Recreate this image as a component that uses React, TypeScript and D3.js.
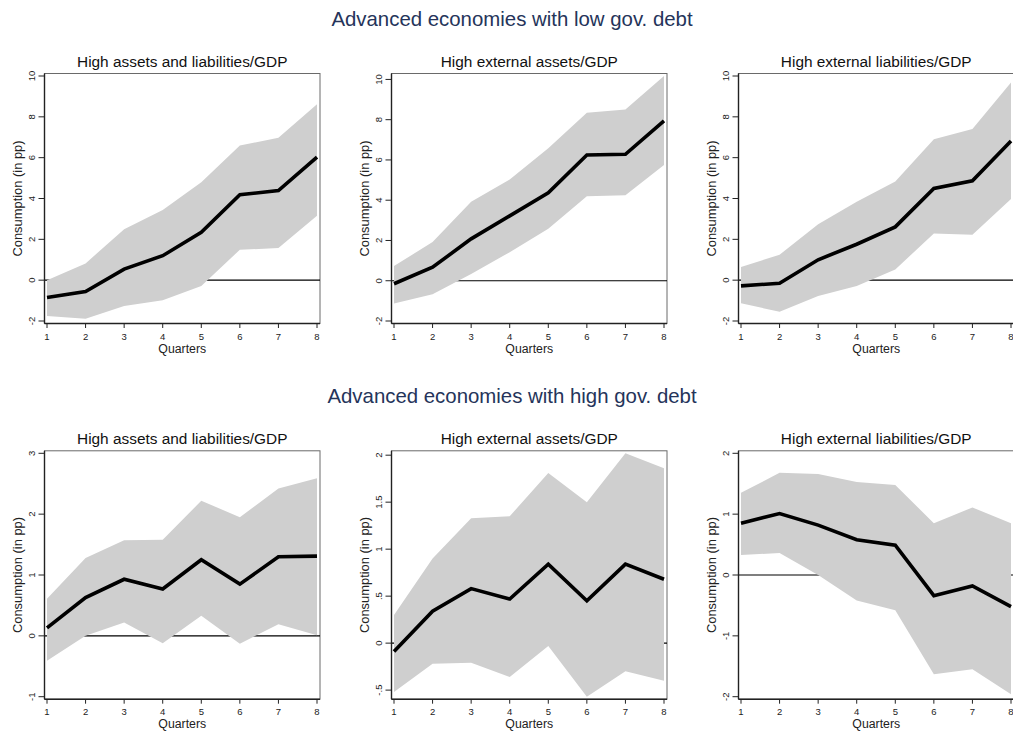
import React from "react";
import * as d3 from "d3";

// ---------- data ----------
const quarters = [1, 2, 3, 4, 5, 6, 7, 8];

const rowTitles = [
  "Advanced economies with low gov. debt",
  "Advanced economies with high gov. debt",
];
const panelTitles = [
  "High assets and liabilities/GDP",
  "High external assets/GDP",
  "High external liabilities/GDP",
];

// Low gov. debt – high assets and liabilities
const lowBothIrf = [-0.85, -0.56, 0.54, 1.2, 2.34, 4.18, 4.39, 6.03];
const lowBothUpper = [0.0, 0.82, 2.5, 3.44, 4.8, 6.6, 6.97, 8.62];
const lowBothLower = [-1.75, -1.89, -1.26, -0.98, -0.28, 1.49, 1.57, 3.16];
// Low gov. debt – high external assets
const lowAssetsIrf = [-0.15, 0.67, 2.08, 3.22, 4.37, 6.25, 6.28, 7.94];
const lowAssetsUpper = [0.73, 1.92, 3.92, 5.03, 6.58, 8.35, 8.5, 10.17];
const lowAssetsLower = [-1.13, -0.67, 0.33, 1.42, 2.58, 4.2, 4.25, 5.75];
// Low gov. debt – high external liabilities
const lowLiabIrf = [-0.28, -0.15, 1.0, 1.76, 2.61, 4.49, 4.87, 6.82];
const lowLiabUpper = [0.65, 1.24, 2.74, 3.84, 4.83, 6.9, 7.4, 9.68];
const lowLiabLower = [-1.13, -1.55, -0.77, -0.28, 0.52, 2.29, 2.22, 3.97];
// High gov. debt – high assets and liabilities
const highBothIrf = [0.13, 0.63, 0.93, 0.77, 1.25, 0.85, 1.3, 1.31];
const highBothUpper = [0.61, 1.28, 1.57, 1.58, 2.22, 1.95, 2.42, 2.59];
const highBothLower = [-0.41, 0.0, 0.22, -0.12, 0.33, -0.13, 0.19, 0.01];
// High gov. debt – high external assets
const highAssetsIrf = [-0.09, 0.34, 0.58, 0.47, 0.84, 0.45, 0.84, 0.68];
const highAssetsUpper = [0.3, 0.9, 1.33, 1.35, 1.81, 1.5, 2.02, 1.86];
const highAssetsLower = [-0.52, -0.22, -0.21, -0.36, -0.03, -0.57, -0.3, -0.4];
// High gov. debt – high external liabilities
const highLiabIrf = [0.85, 1.01, 0.82, 0.58, 0.49, -0.34, -0.18, -0.52];
const highLiabUpper = [1.35, 1.68, 1.66, 1.53, 1.48, 0.85, 1.11, 0.85];
const highLiabLower = [0.33, 0.36, 0.0, -0.42, -0.58, -1.63, -1.55, -1.96];

// y-axis tick values per panel
const lowTicks = [-2, 0, 2, 4, 6, 8, 10];
const highBothTicks = [-1, 0, 1, 2, 3];
const highAssetsTicks = [-0.5, 0, 0.5, 1, 1.5, 2];
const highLiabTicks = [-2, -1, 0, 1, 2];

const xTitle = "Quarters";
const yTitle = "Consumption (in pp)";

// ---------- layout ----------
const W = 1013;
const H = 732;
const colX = [47, 394, 741];
const plotW = 270;
const rows = [
  { top: 76, bottom: 321, titleY: 26, panelTitleY: 67 },
  { top: 453.3, bottom: 696.7, titleY: 403, panelTitleY: 443.5 },
];
const FONT = "'Liberation Sans', Arial, Helvetica, sans-serif";

type PanelDef = {
  row: number;
  col: number;
  irf: number[];
  upper: number[];
  lower: number[];
  ticks: number[];
};

const panels: PanelDef[] = [
  { row: 0, col: 0, irf: lowBothIrf, upper: lowBothUpper, lower: lowBothLower, ticks: lowTicks },
  { row: 0, col: 1, irf: lowAssetsIrf, upper: lowAssetsUpper, lower: lowAssetsLower, ticks: lowTicks },
  { row: 0, col: 2, irf: lowLiabIrf, upper: lowLiabUpper, lower: lowLiabLower, ticks: lowTicks },
  { row: 1, col: 0, irf: highBothIrf, upper: highBothUpper, lower: highBothLower, ticks: highBothTicks },
  { row: 1, col: 1, irf: highAssetsIrf, upper: highAssetsUpper, lower: highAssetsLower, ticks: highAssetsTicks },
  { row: 1, col: 2, irf: highLiabIrf, upper: highLiabUpper, lower: highLiabLower, ticks: highLiabTicks },
];

const fmt = (v: number) => {
  let s = String(Math.round(v * 100) / 100);
  s = s.replace(/^0\./, ".").replace(/^-0\./, "-.");
  return s;
};

function Panel({ p }: { p: PanelDef }) {
  const r = rows[p.row];
  const x0 = colX[p.col];
  const x = d3.scaleLinear().domain([1, 8]).range([x0, x0 + plotW]);
  const yMin = Math.min(p.ticks[0], d3.min(p.lower) as number);
  const yMax = Math.max(p.ticks[p.ticks.length - 1], d3.max(p.upper) as number);
  const y = d3.scaleLinear().domain([yMin, yMax]).range([r.bottom, r.top]);

  const area = d3
    .area<number>()
    .x((_, i) => x(quarters[i]))
    .y0((_, i) => y(p.lower[i]))
    .y1((_, i) => y(p.upper[i]));
  const line = d3
    .line<number>()
    .x((_, i) => x(quarters[i]))
    .y((d) => y(d));

  const fl = x(1) - 2.5;
  const fr = x(8) + 3;
  const ft = r.top - 2.5;
  const fb = r.bottom + 2.5;

  return (
    <g>
      <text
        x={(fl + fr) / 2}
        y={r.panelTitleY}
        textAnchor="middle"
        fontSize={15.4}
        fontFamily={FONT}
        fill="#111"
      >
        {panelTitles[p.col]}
      </text>
      {/* frame */}
      <rect x={fl} y={ft} width={fr - fl} height={fb - ft} fill="#fff" stroke="#6a6a6a" strokeWidth={1} />
      {/* zero line */}
      <line x1={fl} x2={fr} y1={y(0)} y2={y(0)} stroke="#000" strokeWidth={1.1} />
      {/* confidence band */}
      <path d={area(p.irf) || ""} fill="#cfcfcf" stroke="none" />
      {/* impulse response */}
      <path d={line(p.irf) || ""} fill="none" stroke="#000" strokeWidth={3.6} strokeLinejoin="miter" />
      {/* axes */}
      <line x1={fl} x2={fl} y1={ft} y2={fb} stroke="#222" strokeWidth={1.4} />
      <line x1={fl} x2={fr} y1={fb} y2={fb} stroke="#222" strokeWidth={1.4} />
      {p.ticks.map((t) => (
        <g key={"y" + t}>
          <line x1={fl - 6} x2={fl} y1={y(t)} y2={y(t)} stroke="#222" strokeWidth={1} />
          <text
            transform={`translate(${fl - 13},${y(t)}) rotate(-90)`}
            textAnchor="middle"
            dominantBaseline="central"
            fontSize={9.5}
            fontFamily={FONT}
            fill="#222"
          >
            {fmt(t)}
          </text>
        </g>
      ))}
      {quarters.map((q) => (
        <g key={"x" + q}>
          <line x1={x(q)} x2={x(q)} y1={fb} y2={fb + 4.5} stroke="#222" strokeWidth={1} />
          <text
            x={x(q)}
            y={fb + 12.5}
            textAnchor="middle"
            dominantBaseline="central"
            fontSize={9.5}
            fontFamily={FONT}
            fill="#222"
          >
            {q}
          </text>
        </g>
      ))}
      <text
        x={(fl + fr) / 2}
        y={fb + 25}
        textAnchor="middle"
        dominantBaseline="central"
        fontSize={12.3}
        fontFamily={FONT}
        fill="#222"
      >
        {xTitle}
      </text>
      <text
        transform={`translate(${fl - 27},${(ft + fb) / 2}) rotate(-90)`}
        textAnchor="middle"
        dominantBaseline="central"
        fontSize={12.9}
        fontFamily={FONT}
        fill="#222"
      >
        {yTitle}
      </text>
    </g>
  );
}

export default function App() {
  return (
    <svg
      width={W}
      height={H}
      viewBox={`0 0 ${W} ${H}`}
      style={{ position: "absolute", left: 0, top: 0, background: "#fff" }}
    >
      <rect x={0} y={0} width={W} height={H} fill="#fff" />
      {rows.map((r, i) => (
        <text
          key={i}
          x={512}
          y={r.titleY}
          textAnchor="middle"
          fontSize={20.4}
          fontFamily={FONT}
          fill="#25345a"
        >
          {rowTitles[i]}
        </text>
      ))}
      {panels.map((p, i) => (
        <Panel key={i} p={p} />
      ))}
    </svg>
  );
}
